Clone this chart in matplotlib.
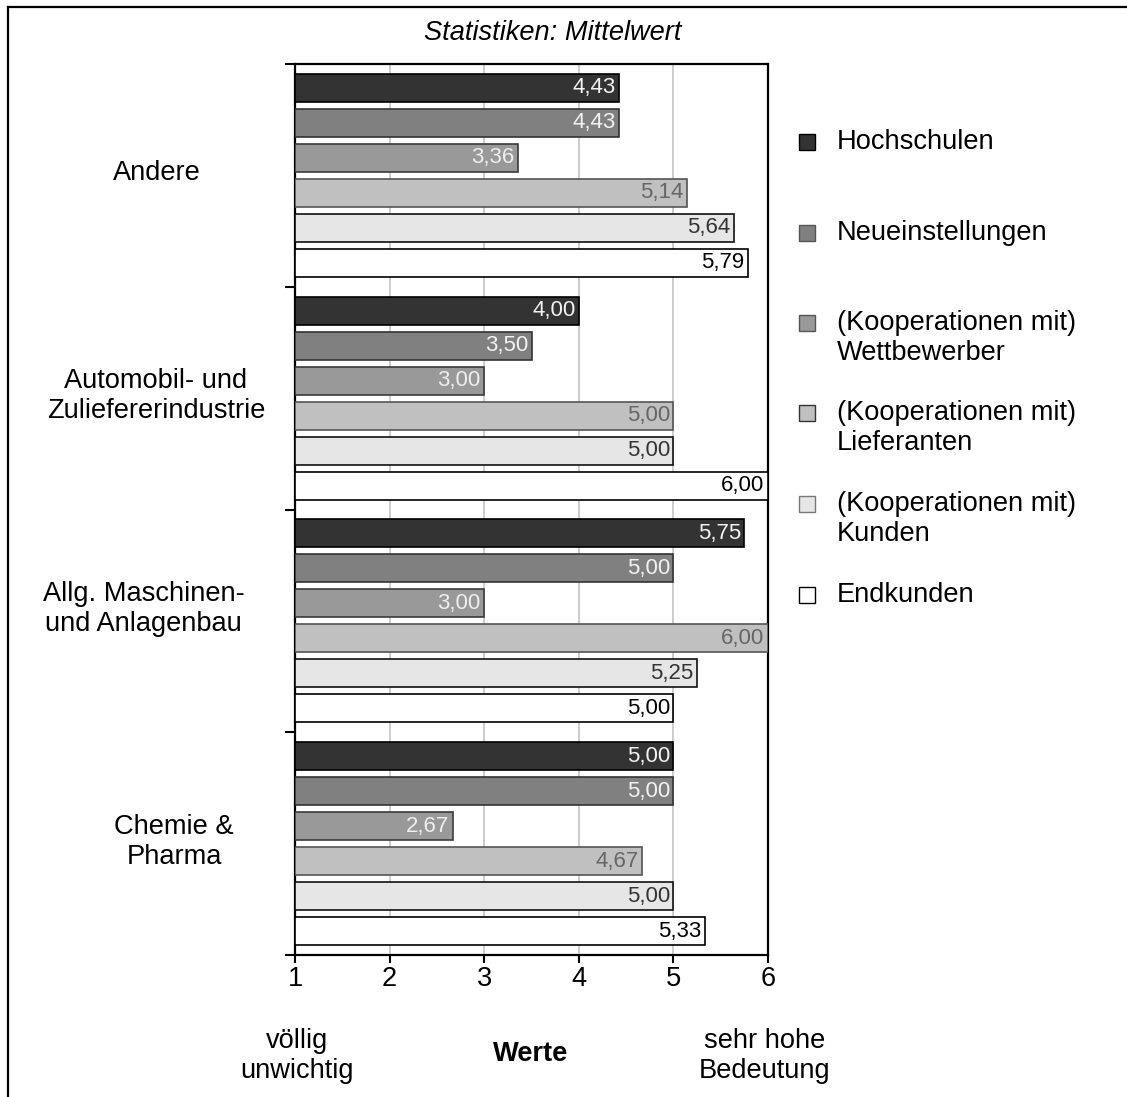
import matplotlib
matplotlib.use("Agg")
import matplotlib.pyplot as plt
from matplotlib.patches import Rectangle
from matplotlib.lines import Line2D
import numpy as np

plt.rcParams['font.family'] = ['Liberation Sans', 'DejaVu Sans']

categories = ["Andere", "Automobil- und\nZuliefererindustrie",
              "Allg. Maschinen-\nund Anlagenbau", "Chemie &\nPharma"]
series = ["Hochschulen", "Neueinstellungen",
          "(Kooperationen mit)\nWettbewerber", "(Kooperationen mit)\nLieferanten",
          "(Kooperationen mit)\nKunden", "Endkunden"]
values = {
    "Hochschulen":      [4.43, 4.00, 5.75, 5.00],
    "Neueinstellungen": [4.43, 3.50, 5.00, 5.00],
    "Wettbewerber":     [3.36, 3.00, 3.00, 2.67],
    "Lieferanten":      [5.14, 5.00, 6.00, 4.67],
    "Kunden":           [5.64, 5.00, 5.25, 5.00],
    "Endkunden":        [5.79, 6.00, 5.00, 5.33],
}
xticks = [1, 2, 3, 4, 5, 6]

fills = ["#333333", "#808080", "#999999", "#c0c0c0", "#e6e6e6", "#ffffff"]
edges = ["#000000", "#333333", "#3a3a3a", "#555555", "#111111", "#000000"]
lab_cols = ["#f2f2f2", "#f2f2f2", "#eeeeee", "#666666", "#333333", "#000000"]
leg_edges = ["#000000", "#555555", "#555555", "#333333", "#777777", "#000000"]

# layout (pixel positions of category label centres)
cat_lab_x = [156.5, 156, 143.5, 174]
cat_lab_y = [173, 396, 609, 842]

W, H = 1127, 1097
fig = plt.figure(figsize=(W / 100, H / 100), dpi=100)

def fx(px):
    return px / W

def fy(py):
    return 1 - py / H

ax = fig.add_axes([fx(295), fy(955), fx(768) - fx(295), fy(64) - fy(955)])

step = 35 / 223.0
bh = 28 / 223.0
keys = list(values.keys())
for j, k in enumerate(keys):
    vals = np.array(values[k])
    ys = np.arange(len(categories)) + (j - 2.5) * step
    ax.barh(ys, vals - 1, left=1, height=bh, color=fills[j],
            edgecolor=edges[j], linewidth=1.2, zorder=3)
    for y, v in zip(ys, vals):
        ax.annotate(f"{v:.2f}".replace(".", ","), xy=(v, y), xytext=(-2.5, 0),
                    textcoords="offset points", ha="right", va="center",
                    fontsize=16, color=lab_cols[j], zorder=4)

ax.set_xlim(1, 6)
ax.set_ylim(len(categories) - 0.5, -0.5)
ax.set_xticks(xticks)
ax.set_xticklabels([str(t) for t in xticks], fontsize=19.6)
ax.set_yticks(np.arange(-0.5, len(categories), 1.0))
ax.set_yticklabels([])
ax.tick_params(axis="x", length=6, width=1.5, pad=2)
ax.tick_params(axis="y", length=7, width=1.5)
ax.grid(axis="x", color="#c8c8c8", linewidth=1.3, zorder=0)
for s in ax.spines.values():
    s.set_linewidth(1.6)
    s.set_color("#000000")

for c, px, py in zip(categories, cat_lab_x, cat_lab_y):
    fig.text(fx(px), fy(py), c, ha="center", va="center",
             fontsize=19.6, linespacing=1.2, multialignment="center")

# title
fig.text(fx(553), fy(33), "Statistiken: Mittelwert", ha="center", va="center",
         fontsize=19.6, style="italic")

# bottom annotations
fig.text(fx(297), fy(1056), "völlig\nunwichtig", ha="center", va="center",
         fontsize=19.6, linespacing=1.2)
fig.text(fx(531), fy(1054), "Werte", ha="center", va="center",
         fontsize=19.6, fontweight="bold")
fig.text(fx(765), fy(1056), "sehr hohe\nBedeutung", ha="center", va="center",
         fontsize=19.6, linespacing=1.2)

# legend (manual)
leg_y = [142, 232.5, 323, 413, 504, 594.5]
for j, (lab, yy) in enumerate(zip(series, leg_y)):
    fig.patches.append(Rectangle((fx(799), fy(yy + 8)), fx(16), 16 / H,
                                 transform=fig.transFigure, facecolor=fills[j],
                                 edgecolor=leg_edges[j], linewidth=1.0))
    parts = lab.split("\n")
    for n, part in enumerate(parts):
        fig.text(fx(837), fy(yy + 30 * n), part, ha="left", va="center",
                 fontsize=19.6)

# outer frame (top and left edges)
fig.lines.append(Line2D([fx(7.7), 1.0], [fy(6.7), fy(6.7)],
                        transform=fig.transFigure, color="black", linewidth=1.6))
fig.lines.append(Line2D([fx(7.7), fx(7.7)], [fy(6.7), 0.0],
                        transform=fig.transFigure, color="black", linewidth=1.6))

fig.savefig("out.png", dpi=100)
